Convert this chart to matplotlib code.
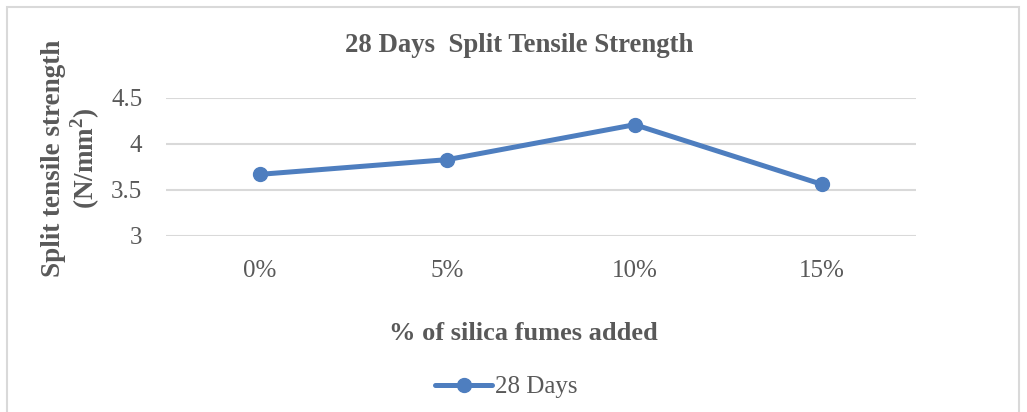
import matplotlib.pyplot as plt
from matplotlib.patches import Rectangle

# Data
categories = ['0%', '5%', '10%', '15%']
strength_28 = [3.67, 3.83, 4.21, 3.56]
y_ticks = [3, 3.5, 4, 4.5]

plt.rcParams['font.family'] = ['Liberation Serif', 'DejaVu Serif']
grey = '#595959'
blue = '#4E7EBF'

W, H = 1027, 412
fig = plt.figure(figsize=(W / 100, H / 100), dpi=100)

# Outer chart border (Excel style)
fig.patches.append(Rectangle((7 / W, -0.05), (1019 - 7) / W, 1.05 - 7 / H,
                             transform=fig.transFigure, fill=False,
                             edgecolor='#D9D9D9', linewidth=1.5))

ax = fig.add_axes([166 / W, 1 - 236 / H, (916 - 166) / W, (236 - 98) / H])
x = range(len(categories))
ax.plot(x, strength_28, color=blue, linewidth=3.6, marker='o', markersize=10,
        label='28 Days', solid_capstyle='round')

ax.set_xlim(-0.5, len(categories) - 0.5)
ax.set_ylim(3, 4.5)
ax.set_yticks(y_ticks)
ax.set_yticklabels(['3', '3.5', '4', '4.5'])
ax.set_xticks(list(x))
ax.set_xticklabels(categories)
ax.tick_params(length=0, labelsize=18, colors=grey)
ax.tick_params(axis='y', pad=17)
ax.tick_params(axis='x', pad=17)
ax.grid(axis='y', color='#D9D9D9', linewidth=1.5)
ax.set_axisbelow(True)
for s in ax.spines.values():
    s.set_visible(False)

fig.text(519 / W, 1 - 45 / H, '28 Days  Split Tensile Strength', ha='center', va='center',
         fontsize=19.3, fontweight='bold', color=grey)
fig.text(53 / W, 1 - 158 / H, 'Split tensile strength', rotation=90, ha='center', va='center',
         fontsize=19.5, fontweight='bold', color=grey)
fig.text(85 / W, 1 - 158 / H, '(N/mm$^\\mathregular{2}$)', rotation=90, ha='center', va='center',
         fontsize=19.5, fontweight='bold', color=grey)
fig.text(523 / W, 1 - 333 / H, '% of silica fumes added', ha='center', va='center',
         fontsize=19, fontweight='bold', color=grey)

leg = fig.legend(loc='center', bbox_to_anchor=(506 / W, 1 - 387 / H), frameon=False,
                 fontsize=18, handlelength=2.3, handletextpad=0.1)
for t in leg.get_texts():
    t.set_color(grey)

fig.savefig('out.png', dpi=100)
